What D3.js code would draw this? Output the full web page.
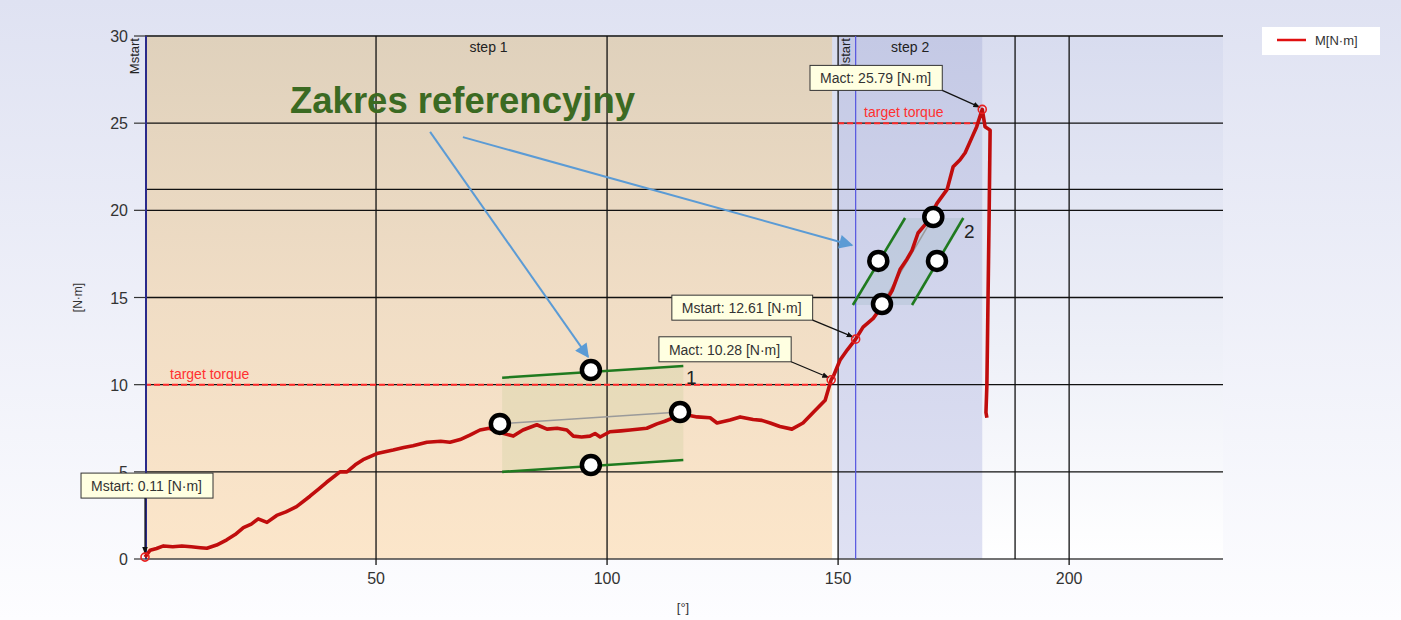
<!DOCTYPE html>
<html><head><meta charset="utf-8">
<script src="https://cdn.jsdelivr.net/npm/d3@7"></script>
<style>html,body{margin:0;padding:0;background:#fff;}svg{display:block;font-family:"Liberation Sans",Arial,sans-serif;}</style>
</head><body>
<svg id="chart" width="1401" height="620"></svg>
<script>
// ---- data ----
const angle = [0,1.1,2.5,4,6,8,10,12,13.4,15.5,17.7,19.5,21.3,23,24.5,26.4,28.5,30.5,32.8,35.7,37.5,39.3,42.2,43.7,45.5,47.2,50.2,53.7,56,58,61,64,66,68.2,70.3,72.5,74.5,76.8,79.7,81.8,84.8,87,89.2,91.3,92.7,94.5,96.3,97.4,98.5,100.6,103,105,108.6,110.8,112.5,114.3,116.5,119.5,122.3,123.8,126.6,128.8,131.6,133.5,135.3,137.4,140,142.4,144.6,147.2,148.5,149,150.4,152,153.8,155.4,157.6,159.5,160.6,161.7,163.4,164.9,166,167.3,169.2,171.4,173.6,174.9,176.4,177.5,179,180,181.2,181.8,182.9,182.7,182.4,182.2,182.0,182.2];
const torque = [0.11,0.5,0.6,0.75,0.7,0.75,0.7,0.65,0.62,0.8,1.1,1.4,1.8,2.0,2.3,2.1,2.5,2.7,3.0,3.6,4.0,4.4,5.0,5.0,5.4,5.7,6.05,6.25,6.4,6.5,6.7,6.75,6.7,6.85,7.1,7.4,7.5,7.25,7.05,7.4,7.7,7.45,7.5,7.4,7.05,7.0,7.05,7.2,7.0,7.3,7.35,7.4,7.5,7.75,7.9,8.1,8.3,8.15,8.1,7.8,7.97,8.15,8.0,7.95,7.8,7.6,7.45,7.8,8.4,9.1,10.28,10.5,11.4,12.0,12.61,13.3,13.8,14.5,14.9,15.4,16.6,17.2,17.7,18.7,19.3,20.4,21.2,22.5,22.9,23.3,24.2,24.8,25.79,24.8,24.6,20,14,10,8.4,8.1];
const xTicks = [50,100,150,200];
const yTicks = [0,5,10,15,20,25,30];
const stepNames = ["step 1","step 2"];
const stepStart = [0,150];
const stepEnd = [148.7,181.2];
const targetValues = [10,25];
const targetStart = [0,150];
const targetEnd = [148.5,181];
const mstartAngles = [0,153.8];
const limitAngles = [188.3];
const limitTorques = [21.2];
const markerLabels = ["Mstart","Mact","Mstart","Mact"];
const markerAngles = [0,148.5,153.8,181.2];
const markerValues = [0.11,10.28,12.61,25.79];
const zone1Top = [[77.3,10.4],[116.5,11.07]];
const zone1Bottom = [[77.3,5.0],[116.5,5.68]];
const zone1Points = [[76.8,7.75],[115.8,8.43],[96.5,10.84],[96.5,5.39]];
const zone2Left = [[153.2,14.57],[164.5,19.56]];
const zone2Right = [[166.0,14.57],[177.1,19.56]];
const zone2Points = [[158.7,17.1],[159.5,14.63],[170.6,19.62],[171.4,17.1]];
const zoneLabels = ["1","2"];
const calloutText = "Zakres referencyjny";
const calloutArrows = [[[61.7,24.5],[95.9,11.59]],[[68.8,24.2],[153.0,18.0]]];
const legendLabel = "M[N·m]";
const yLabel = "[N·m]";
const xLabel = "[°]";

// ---- layout ----
const svg = d3.select("#chart");
const L = 145, R = 1223, T = 36, B = 559;
const x = d3.scaleLinear().domain([0,233.3]).range([L,R]);
const y = d3.scaleLinear().domain([0,30]).range([B,T]);
const defs = svg.append("defs");
function grad(id, stops){
  const g = defs.append("linearGradient").attr("id",id).attr("x1",0).attr("y1",0).attr("x2",0).attr("y2",1);
  stops.forEach(s=>g.append("stop").attr("offset",s[0]).attr("stop-color",s[1]));
}
grad("pageBg",[[0,"#dfe2f2"],[1,"#fdfdff"]]);
grad("plotBg",[[0,"#d8dcef"],[0.6,"#eef0f8"],[1,"#ffffff"]]);
grad("step1Bg",[[0,"#dfd1bc"],[0.5,"#f0ddc5"],[1,"#fce6ca"]]);
grad("step2Bg",[[0,"#c4c9e5"],[1,"#dfe1f3"]]);
const mk = defs.append("marker").attr("id","arrBlk").attr("viewBox","0 0 10 10").attr("refX",10).attr("refY",5)
  .attr("markerWidth",7).attr("markerHeight",7).attr("markerUnits","userSpaceOnUse").attr("orient","auto");
mk.append("path").attr("d","M0,1L10,5L0,9Z").attr("fill","#111");
const mb = defs.append("marker").attr("id","arrBlue").attr("viewBox","0 0 10 10").attr("refX",9).attr("refY",5)
  .attr("markerWidth",16).attr("markerHeight",14).attr("markerUnits","userSpaceOnUse").attr("orient","auto");
mb.append("path").attr("d","M0,0L10,5L0,10Z").attr("fill","#5b9bd5");
defs.append("clipPath").attr("id","step2clip").append("rect").attr("x",x(149.6)).attr("y",T).attr("width",R-x(149.6)).attr("height",B-T);

svg.append("rect").attr("width",1401).attr("height",620).attr("fill","url(#pageBg)");
svg.append("rect").attr("x",L).attr("y",T).attr("width",R-L).attr("height",B-T).attr("fill","url(#plotBg)");
// steps
stepNames.forEach((n,i)=>{
  svg.append("rect").attr("x",x(stepStart[i])).attr("y",T).attr("width",x(stepEnd[i])-x(stepStart[i])).attr("height",B-T)
    .attr("fill", i===0?"url(#step1Bg)":"url(#step2Bg)");
});
// zone shading
svg.append("path").attr("d",d3.line()([zone1Top[0],zone1Top[1],zone1Bottom[1],zone1Bottom[0]].map(p=>[x(p[0]),y(p[1])]))+"Z")
  .attr("fill","rgba(185,200,140,0.22)");
svg.append("path").attr("d",d3.line()([zone2Left[0],zone2Left[1],zone2Right[1],zone2Right[0]].map(p=>[x(p[0]),y(p[1])]))+"Z")
  .attr("fill","rgba(160,185,195,0.3)");
// grid
const grid = svg.append("g").attr("stroke","#111").attr("stroke-width",1.3);
yTicks.forEach(v=>grid.append("line").attr("x1",L).attr("x2",R).attr("y1",y(v)).attr("y2",y(v)).attr("stroke",v===0||v===30?"#444":"#111").attr("stroke-width",v===30?2:1.3));
limitTorques.forEach(v=>grid.append("line").attr("x1",L).attr("x2",R).attr("y1",y(v)).attr("y2",y(v)));
xTicks.forEach(v=>grid.append("line").attr("x1",x(v)).attr("x2",x(v)).attr("y1",T).attr("y2",B+6));
limitAngles.forEach(v=>grid.append("line").attr("x1",x(v)).attr("x2",x(v)).attr("y1",T).attr("y2",B));
// axes ticks/labels
const ax = svg.append("g").attr("fill","#333").attr("font-size",16);
yTicks.forEach(v=>{
  ax.append("line").attr("x1",L-11).attr("x2",L).attr("y1",y(v)).attr("y2",y(v)).attr("stroke","#333").attr("stroke-width",1.2);
  ax.append("text").attr("x",L-17).attr("y",y(v)+6).attr("text-anchor","end").text(v);
});
xTicks.forEach(v=>ax.append("text").attr("x",x(v)).attr("y",B+25).attr("text-anchor","middle").text(v));
svg.append("text").attr("transform",`translate(${82},${y(15)}) rotate(-90)`).attr("text-anchor","middle").attr("font-size",12).attr("fill","#333").text(yLabel);
svg.append("text").attr("x",(L+R)/2-1).attr("y",612).attr("text-anchor","middle").attr("font-size",13).attr("fill","#333").text(xLabel);
// step labels
stepNames.forEach((n,i)=>svg.append("text").attr("x",x((stepStart[i]+stepEnd[i])/2)).attr("y",T+16).attr("text-anchor","middle")
  .attr("font-size",14).attr("fill","#222").text(n));
// target torque lines
targetValues.forEach((v,i)=>{
  svg.append("line").attr("x1",x(targetStart[i])).attr("x2",x(targetEnd[i])).attr("y1",y(v)).attr("y2",y(v))
    .attr("stroke","#ff2a2a").attr("stroke-width",2).attr("stroke-dasharray","6,3");
  svg.append("text").attr("x",x(targetStart[i])+(i===0?25:26)).attr("y",y(v)-6).attr("font-size",14).attr("fill","#ff3030").text("target torque");
});
// Mstart lines
mstartAngles.forEach((a,i)=>{
  svg.append("line").attr("x1",x(a)+(i===0?1:0)).attr("x2",x(a)+(i===0?1:0)).attr("y1",T).attr("y2",B)
    .attr("stroke",i===0?"#2a2a8a":"#5555e0").attr("stroke-width",i===0?2:1.2);
  const parent = i===0 ? svg : svg.append("g").attr("clip-path","url(#step2clip)");
  parent.append("text").attr("transform",`translate(${x(a)-6},${T+2}) rotate(-90)`).attr("text-anchor","end")
    .attr("font-size",13).attr("fill","#222").text("Mstart");
});
// zone connecting lines
const gz = svg.append("g");
function seg(p,q,col,w){gz.append("line").attr("x1",x(p[0])).attr("y1",y(p[1])).attr("x2",x(q[0])).attr("y2",y(q[1])).attr("stroke",col).attr("stroke-width",w);}
seg(zone1Points[0],zone1Points[1],"#9a9a9a",1.5);
seg(zone2Points[1],zone2Points[2],"#9a9a9a",1.5);
// curve
svg.append("path").datum(angle.map((a,i)=>[a,torque[i]]))
  .attr("d",d3.line().x(d=>x(d[0])).y(d=>y(d[1])))
  .attr("fill","none").attr("stroke","#c00d0d").attr("stroke-width",3.6).attr("stroke-linejoin","round");
const gz2 = svg.append("g");
function seg2(p,q){gz2.append("line").attr("x1",x(p[0])).attr("y1",y(p[1])).attr("x2",x(q[0])).attr("y2",y(q[1])).attr("stroke","#1f7a1f").attr("stroke-width",2.6);}
seg2(zone1Top[0],zone1Top[1]); seg2(zone1Bottom[0],zone1Bottom[1]);
seg2(zone2Left[0],zone2Left[1]); seg2(zone2Right[0],zone2Right[1]);
zone1Points.concat(zone2Points).forEach(p=>gz2.append("circle").attr("cx",x(p[0])).attr("cy",y(p[1])).attr("r",9)
  .attr("fill","#fff").attr("stroke","#000").attr("stroke-width",4.5));
svg.append("text").attr("x",686).attr("y",384).attr("font-size",19).attr("fill","#222").text(zoneLabels[0]);
svg.append("text").attr("x",964).attr("y",238).attr("font-size",19).attr("fill","#222").text(zoneLabels[1]);
// markers and callouts
const boxOff = [[68,-59],[-40,-18],[-43,-19],[-40,-19]];
markerAngles.forEach((a,i)=>{
  const px = x(a), py = y(markerValues[i]);
  const g = svg.append("g");
  const t = g.append("text").attr("font-size",14).attr("fill","#333").text(`${markerLabels[i]}: ${markerValues[i].toFixed(2)} [N·m]`);
  const w = t.node().getComputedTextLength()+21, h = 25;
  const bx = px+boxOff[i][0]-w, by = py+boxOff[i][1]-h;
  g.insert("rect","text").attr("x",bx).attr("y",by).attr("width",w).attr("height",h).attr("fill","#ffffe1").attr("stroke","#333").attr("stroke-width",1);
  t.attr("x",bx+10).attr("y",by+18);
  const sx = i===0?px:bx+w, sy = by+h;
  svg.append("line").attr("x1",sx).attr("y1",sy).attr("x2",px+(i===0?0:-2)).attr("y2",py-(i===0?3:2))
    .attr("stroke","#111").attr("stroke-width",1.2).attr("marker-end","url(#arrBlk)");
  svg.append("circle").attr("cx",px).attr("cy",py).attr("r",4).attr("fill","none").attr("stroke","#e82020").attr("stroke-width",1.6);
});
// callout
calloutArrows.forEach(a=>svg.append("line").attr("x1",x(a[0][0])).attr("y1",y(a[0][1])).attr("x2",x(a[1][0])).attr("y2",y(a[1][1]))
  .attr("stroke","#5b9bd5").attr("stroke-width",2).attr("marker-end","url(#arrBlue)"));
svg.append("text").attr("x",290).attr("y",113).attr("font-size",37).attr("font-weight","bold").attr("fill","#3b6a22")
  .attr("textLength",345).attr("lengthAdjust","spacingAndGlyphs").text(calloutText);
// legend
const lg = svg.append("g");
lg.append("rect").attr("x",1262).attr("y",27).attr("width",118).attr("height",28).attr("fill","#fff");
lg.append("line").attr("x1",1277).attr("x2",1306).attr("y1",40).attr("y2",40).attr("stroke","#e01010").attr("stroke-width",2.5);
lg.append("text").attr("x",1315).attr("y",45).attr("font-size",13).attr("fill","#333").text(legendLabel);
</script>
</body></html>
